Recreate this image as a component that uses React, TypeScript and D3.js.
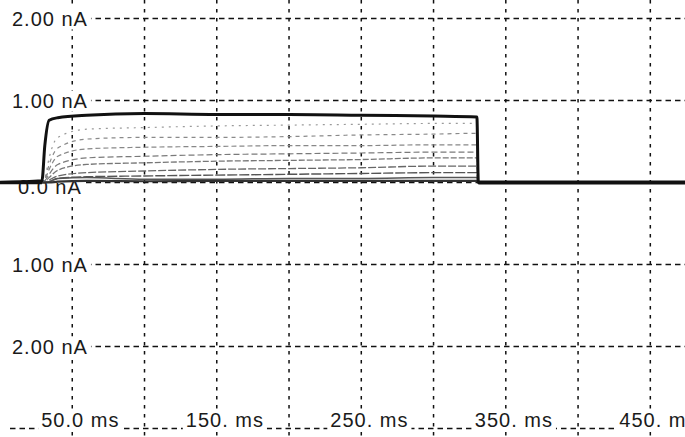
import React, { useEffect, useRef } from "react";
import * as d3 from "d3";

// sweep sample times (ms) and current traces (nA)
const sampleTimes = [0, 29, 31, 34, 40, 60, 100, 150, 200, 250, 300, 330, 331, 474];

const traceTop = [0, 0.02, 0.45, 0.76, 0.79, 0.82, 0.84, 0.83, 0.83, 0.82, 0.81, 0.8, 0, 0];
const traceA = [0, 0, 0.05, 0.3, 0.55, 0.65, 0.67, 0.69, 0.7, 0.71, 0.72, 0.72, 0, 0];
const traceB = [0, 0, 0.04, 0.22, 0.42, 0.53, 0.55, 0.55, 0.56, 0.58, 0.59, 0.6, 0, 0];
const traceC = [0, 0, 0.03, 0.16, 0.32, 0.41, 0.43, 0.44, 0.45, 0.45, 0.46, 0.46, 0, 0];
const traceD = [0, 0, 0.02, 0.1, 0.22, 0.3, 0.32, 0.34, 0.35, 0.36, 0.37, 0.37, 0, 0];
const traceE = [0, 0, 0.01, 0.06, 0.15, 0.22, 0.24, 0.26, 0.27, 0.28, 0.3, 0.3, 0, 0];
const traceF = [0, 0, 0, 0.03, 0.08, 0.12, 0.14, 0.16, 0.17, 0.18, 0.2, 0.2, 0, 0];
const traceG = [0, 0, 0, 0.01, 0.05, 0.07, 0.08, 0.09, 0.1, 0.11, 0.12, 0.12, 0, 0];
const traceH = [0, 0, 0, 0.01, 0.05, 0.06, 0.04, 0.04, 0.05, 0.05, 0.06, 0.06, 0, 0];
const traceI = [0, 0, 0, 0, 0.01, 0.02, 0.015, 0.02, 0.02, 0.02, 0.02, 0.02, 0, 0];

const currentTicks = [2, 1, 0, -1, -2];
const currentLabels = ["2.00 nA", "1.00 nA", "0.0 nA", "1.00 nA", "2.00 nA"];
const timeTicks = [50, 150, 250, 350, 450];
const timeLabels = ["50.0 ms", "150. ms", "250. ms", "350. ms", "450. m"];

function App() {
  const canvas = useRef<SVGSVGElement | null>(null);

  useEffect(() => {
    const width = 685;
    const height = 437;
    const svg = d3.select(canvas.current);
    svg.selectAll("*").remove();

    const x = d3.scaleLinear().domain([0, 474]).range([0, width]);
    const y = d3.scaleLinear().domain([-3, 2]).range([428.5, 18.5]);

    svg.append("rect").attr("width", width).attr("height", height).attr("fill", "#fff");

    const grid = svg.append("g");
    grid
      .selectAll("line.h")
      .data([2, 1, 0, -1, -2, -3])
      .enter()
      .append("line")
      .attr("class", "h")
      .attr("x1", 10)
      .attr("x2", width)
      .attr("y1", (d) => y(d))
      .attr("y2", (d) => y(d))
      .attr("stroke", "#111")
      .attr("stroke-width", 1.5)
      .attr("stroke-dasharray", "5.5 4");
    grid
      .selectAll("line.v")
      .data(d3.range(50, 451, 50))
      .enter()
      .append("line")
      .attr("class", "v")
      .attr("x1", (d) => x(d))
      .attr("x2", (d) => x(d))
      .attr("y1", 0)
      .attr("y2", height)
      .attr("stroke", "#111")
      .attr("stroke-width", 1.5)
      .attr("stroke-dasharray", "3.5 5.5");

    const font = (sel: any) =>
      sel
        .attr("font-family", "'Liberation Sans', Arial, sans-serif")
        .attr("font-size", 20)
        .attr("letter-spacing", 1)
        .attr("fill", "#1a1a1a");

    // labels sit on top of the grid with a white mask behind them
    const labelLayer = svg.append("g");
    const addLabel = (tx: number, ty: number, txt: string) => {
      const g = labelLayer.append("g");
      const r = g.append("rect").attr("fill", "#fff");
      const t = g.append("text").attr("x", tx).attr("y", ty).text(txt).call(font);
      const b = (t.node() as SVGTextElement).getBBox();
      r.attr("x", b.x - 3).attr("y", b.y + 1).attr("width", b.width + 6).attr("height", b.height - 1);
    };
    currentTicks.forEach((v, i) => {
      const tx = v === 0 ? 18 : 12;
      const ty = y(v) + (v === 0 ? 11 : 7);
      addLabel(tx, ty, currentLabels[i]);
    });
    timeTicks.forEach((t, i) => addLabel(x(t) - 31, 427, timeLabels[i]));

    const line = d3
      .line<number>()
      .x((_, i) => x(sampleTimes[i]))
      .y((d) => y(d))
      .curve(d3.curveMonotoneX);

    const grey = [
      { v: traceA, c: "#9a9a9a", w: 1.2, dash: "2 5" },
      { v: traceB, c: "#8a8a8a", w: 1.2, dash: "4 4" },
      { v: traceC, c: "#888", w: 1.2, dash: "5 3" },
      { v: traceD, c: "#7a7a7a", w: 1.2, dash: "6 3" },
      { v: traceE, c: "#777", w: 1.3, dash: "6 2" },
      { v: traceF, c: "#666", w: 1.3, dash: "8 2" },
      { v: traceG, c: "#555", w: 1.4, dash: "10 2" },
      { v: traceH, c: "#555", w: 1.5, dash: null },
      { v: traceI, c: "#333", w: 2.2, dash: null },
    ];
    const traces = svg.append("g").attr("fill", "none");
    grey.forEach((s) => {
      traces
        .append("path")
        .attr("d", line(s.v))
        .attr("stroke", s.c)
        .attr("stroke-width", s.w)
        .attr("stroke-dasharray", s.dash);
    });
    traces
      .append("path")
      .attr("d", line(traceTop))
      .attr("stroke", "#111")
      .attr("stroke-width", 3)
      .attr("stroke-linejoin", "round");
    // thick baseline where all sweeps overlap
    traces
      .append("line")
      .attr("x1", x(331))
      .attr("x2", width)
      .attr("y1", y(0))
      .attr("y2", y(0))
      .attr("stroke", "#111")
      .attr("stroke-width", 4);
    traces
      .append("line")
      .attr("x1", 0)
      .attr("x2", x(29))
      .attr("y1", y(0))
      .attr("y2", y(0))
      .attr("stroke", "#111")
      .attr("stroke-width", 3.5);
  }, []);

  return (
    <svg
      ref={canvas}
      width={685}
      height={437}
      style={{ position: "absolute", left: 0, top: 0, display: "block" }}
    />
  );
}

export default App;
